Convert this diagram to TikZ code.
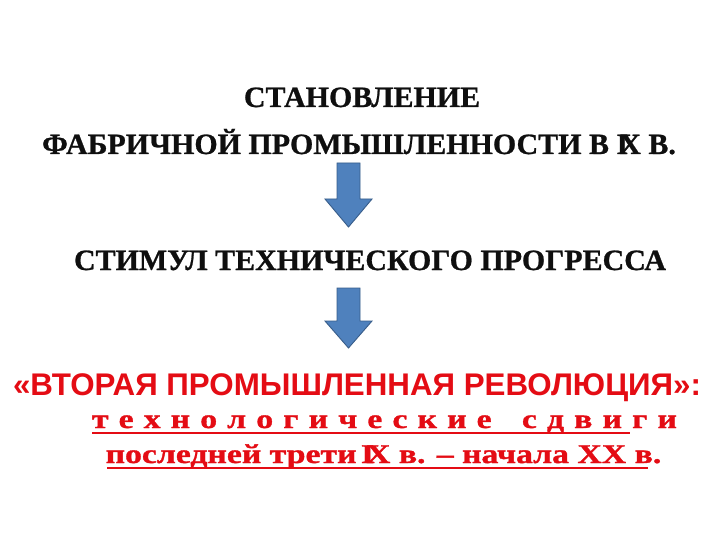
\documentclass[tikz,border=0pt]{standalone}
\usepackage{fontspec}
\setmainfont{Liberation Serif}
\newfontfamily\redsans{Liberation Sans}
\newfontfamily\blackserif{Liberation Serif}[FakeStretch=1.016,FakeBold=0.8]
\newfontfamily\wideserif{Liberation Serif}[FakeStretch=1.25,FakeBold=1.2]
\definecolor{txtblack}{RGB}{15,15,15}
\definecolor{slidered}{RGB}{228,12,20}
\definecolor{arrowfill}{RGB}{79,129,189}
\definecolor{arrowline}{RGB}{56,93,138}
\newcommand{\ixglyph}{I\kern-0.3em X}
\tikzset{
  blacktxt/.style={anchor=base, inner sep=0pt, text=txtblack, font=\blackserif\fontsize{29.5}{34}\selectfont\bfseries},
  redhead/.style={anchor=base, inner sep=0pt, text=slidered, font=\redsans\fontsize{31.3}{36}\selectfont\bfseries},
  redserif/.style={anchor=base, inner sep=0pt, text=slidered, font=\wideserif\fontsize{27}{32}\selectfont\bfseries},
  blockarrow/.style={fill=arrowfill, draw=arrowline, line width=0.9pt, line join=miter},
  uline/.style={draw=slidered, line width=2.4pt}
}
\begin{document}
\begin{tikzpicture}[x=1pt,y=-1pt]
\useasboundingbox (0,0) rectangle (720,540);
\fill[white] (0,0) rectangle (720,540);

\node[blacktxt] (t1) at (362,107) {СТАНОВЛЕНИЕ};
\node[blacktxt] (t2) at (359,154) {ФАБРИЧНОЙ ПРОМЫШЛЕННОСТИ В \ixglyph{} В.};

\draw[blockarrow] (337,163) -- (360,163) -- (360,199) -- (372,199) -- (348.5,227)
  -- (325,199) -- (337,199) -- cycle;

\node[blacktxt] (t3) at (370,270) {СТИМУЛ ТЕХНИЧЕСКОГО ПРОГРЕССА};

\draw[blockarrow] (337,288) -- (360,288) -- (360,321) -- (372,321) -- (348.5,348)
  -- (325,321) -- (337,321) -- cycle;

\node[redhead] (t4) at (357,395) {«ВТОРАЯ ПРОМЫШЛЕННАЯ РЕВОЛЮЦИЯ»:};

\node[redserif] (t5) at (384.5,428) {\makebox[585pt][s]{т\hfill е\hfill х\hfill н\hfill о\hfill л\hfill о\hfill г\hfill и\hfill ч\hfill е\hfill с\hfill к\hfill и\hfill е\hfill\hfill\hfill с\hfill д\hfill в\hfill и\hfill г\hfill и}};
\node[redserif] (t6) at (383.5,463) {последней трети\,\ixglyph{} в. – начала XX в.};

\coordinate (u1a) at (92,433);
\coordinate (u1b) at (630,433);
\coordinate (u2a) at (107,468);
\coordinate (u2b) at (648,468);
\draw[uline] (u1a) -- (u1b);
\draw[uline] (u2a) -- (u2b);
\end{tikzpicture}
\end{document}
